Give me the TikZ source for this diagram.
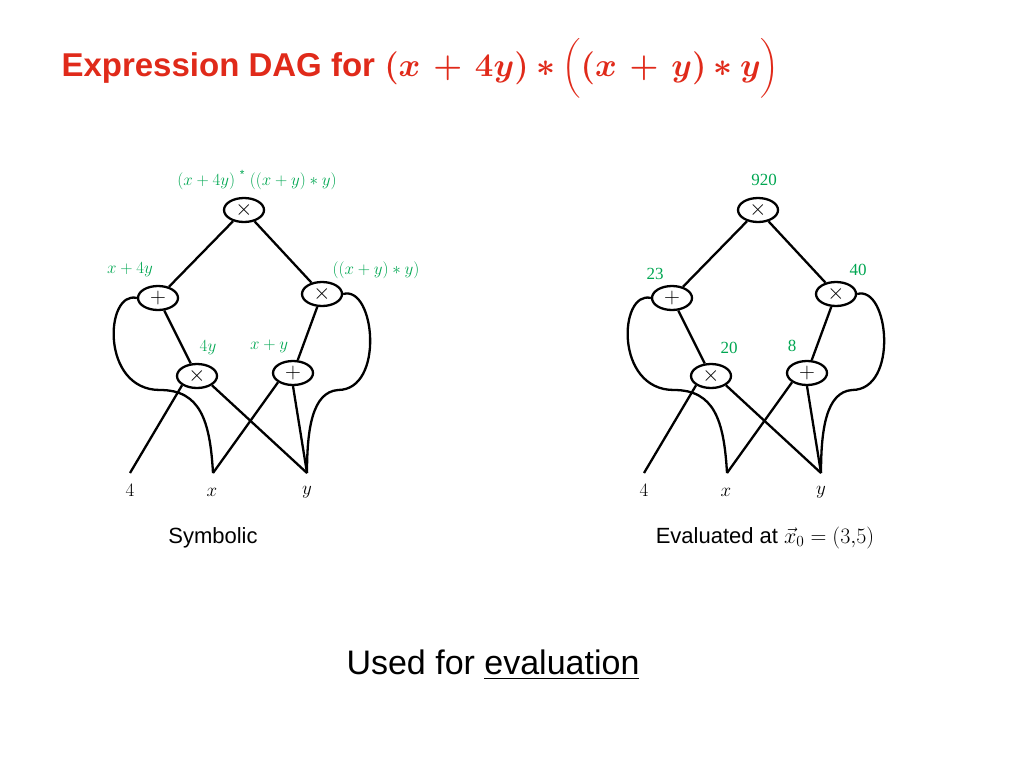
\RequirePackage{fix-cm}
\documentclass[tikz,border=0pt]{standalone}
\usepackage{amsmath,bm}
\usepackage{fontspec}
\setmainfont{Liberation Sans}
\newfontfamily\numfont{Liberation Serif}
\usetikzlibrary{shapes.geometric}
\definecolor{tred}{HTML}{E02A1A}
\definecolor{lgreen}{HTML}{00A651}
\begin{document}
\begin{tikzpicture}[x=1pt,y=-1pt,
  op/.style={draw,ellipse,line width=2.3pt,minimum width=40pt,minimum height=24pt,inner sep=0pt,font=\fontsize{22}{22}\selectfont},
  ed/.style={line width=2.3pt},
  gl/.style={text=lgreen,font=\fontsize{17}{17}\selectfont},
  lf/.style={font=\fontsize{19}{19}\selectfont}]
\useasboundingbox (0,0) rectangle (1024,768);
\node[anchor=west,text=tred,font=\fontsize{33}{33}\selectfont\bfseries] (title) at (58,68)
 {Expression DAG for $\bm{(x\,+\,4y)\ast\Bigl((x\,+\,y)\ast y\Bigr)}$};
\foreach \o/\s in {0/L,514/R}{
 \begin{scope}[xshift=\o]
 \node[op] (t\s) at (244,210) {$\times$};
 \node[op] (p\s) at (158,298) {$+$};
 \node[op] (m\s) at (322,294) {$\times$};
 \node[op] (lm\s) at (197,376) {$\times$};
 \node[op] (lp\s) at (293,373) {$+$};
 \coordinate (f\s) at (130,473);
 \coordinate (x\s) at (213,473);
 \coordinate (y\s) at (307,473);
 \node[lf] (nf\s) at (130,490) {$4$};
 \node[lf] (nx\s) at (212,492) {$x$};
 \node[lf] (ny\s) at (307,492) {$y$};
 \draw[ed] (t\s) -- (p\s);
 \draw[ed] (t\s) -- (m\s);
 \draw[ed] (p\s) -- (lm\s);
 \draw[ed] (m\s) -- (lp\s);
 \draw[ed] (lm\s.south west) -- (f\s);
 \draw[ed] (lm\s.south east) -- (y\s);
 \draw[ed] (lp\s.south west) -- (x\s);
 \draw[ed] (lp\s.south) -- (y\s);
 \draw[ed] (p\s.west) .. controls (105,290) and (100,390) .. (160,390)
   .. controls (200,390) and (210,420) .. (x\s);
 \draw[ed] (m\s.east) .. controls (375,285) and (385,390) .. (338,390)
   .. controls (312,392) and (307,430) .. (y\s);
 \end{scope}}
\node[gl] (a1) at (257,180) {$(x+4y)$ \textsuperscript{*} $((x+y)\ast y)$};
\node[gl] (a2) at (130,270) {$x+4y$};
\node[gl] (a3) at (376,270) {$((x+y)\ast y)$};
\node[gl] (a4) at (208,348) {$4y$};
\node[gl] (a5) at (269,346) {$x+y$};
\node[gl,font=\fontsize{17}{17}\numfont] (b1) at (764,180) {920};
\node[gl,font=\fontsize{17}{17}\numfont] (b2) at (655,274) {23};
\node[gl,font=\fontsize{17}{17}\numfont] (b3) at (858,270) {40};
\node[gl,font=\fontsize{17}{17}\numfont] (b4) at (729,348) {20};
\node[gl,font=\fontsize{17}{17}\numfont] (b5) at (792,346) {8};
\node[font=\fontsize{22}{22}\selectfont] (s1) at (213,538) {Symbolic};
\node[font=\fontsize{22}{22}\selectfont] (s2) at (765,538) {Evaluated at $\vec{x}_0=(3{,}5)$};
\node[font=\fontsize{34}{34}\selectfont] (s3) at (493,665) {Used for \underline{evaluation}};
\end{tikzpicture}
\end{document}
